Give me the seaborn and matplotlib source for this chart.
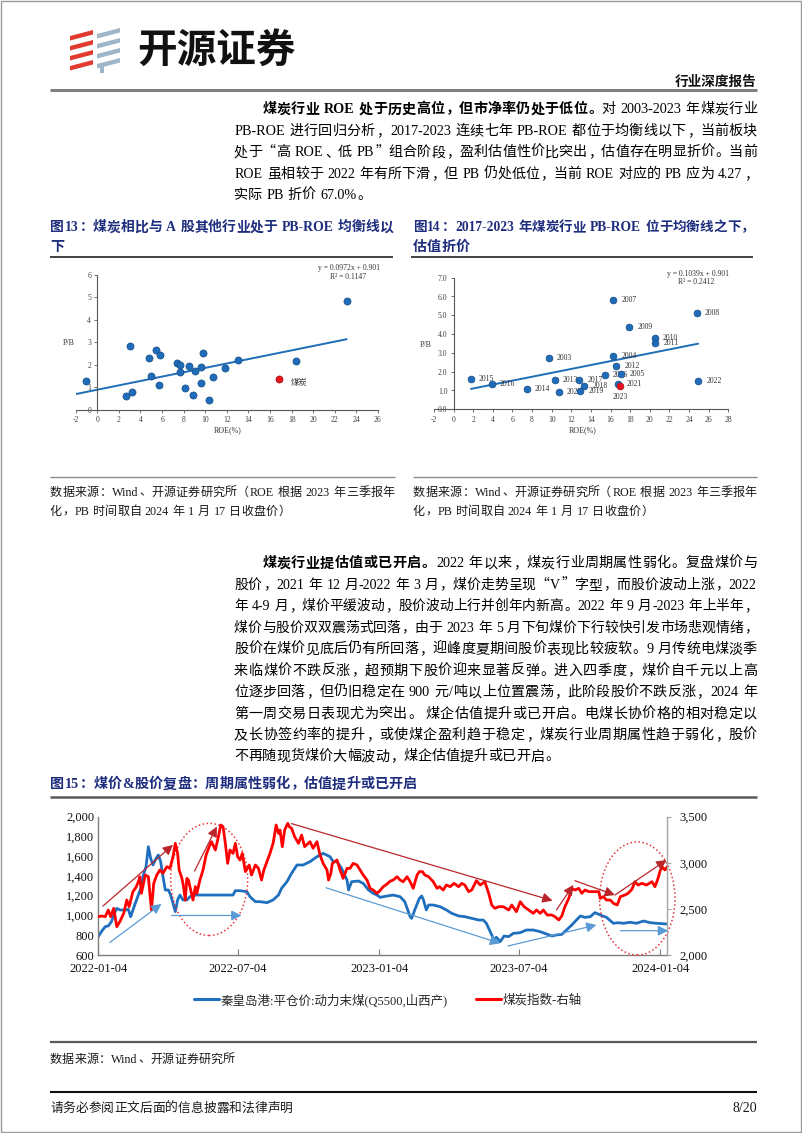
import re
import numpy as np
import pandas as pd
import matplotlib
matplotlib.use('Agg')
import matplotlib.pyplot as plt
import matplotlib.dates as mdates
from matplotlib.ticker import FuncFormatter
from matplotlib.patches import Ellipse, Polygon, Rectangle
from matplotlib.lines import Line2D
import seaborn as sns

sns.set_theme(style='white')
CJK = 'Noto Sans CJK SC'
SERIF = 'Liberation Serif'
plt.rcParams['font.family'] = [SERIF, CJK]
plt.rcParams['axes.unicode_minus'] = False

# ======================= DATA =======================
# Figure 13: industries PB vs ROE
industry_roe = [-1.0, 2.7, 3.2, 3.0, 4.75, 5.0, 5.4, 5.8, 5.7, 7.4, 7.65, 7.7, 8.1,
                8.5, 8.85, 9.05, 9.6, 9.8, 9.65, 10.35, 10.75, 11.85, 13.0, 18.4, 23.1]
industry_pb = [1.29, 0.64, 0.81, 2.84, 2.33, 1.53, 2.67, 2.46, 1.13, 2.07, 2.0, 1.70, 0.98,
               1.94, 0.68, 1.72, 1.91, 2.52, 1.21, 0.43, 1.45, 1.88, 2.21, 2.18, 4.83]
coal_name = '煤炭'
coal_roe = [16.85]
coal_pb = [1.39]
fit13 = [0.0972, 0.901]
fit13_labels = ['y = 0.0972x + 0.901', 'R² = 0.1147']
x13_ticks = list(range(-2, 27, 2))
y13_ticks = list(range(0, 7))

# Figure 14: coal industry by year
years = ['2003', '2004', '2005', '2006', '2007', '2008', '2009', '2010', '2011', '2012', '2013',
         '2014', '2015', '2016', '2017', '2018', '2019', '2020', '2021', '2022', '2023']
year_roe = [9.71, 16.29, 17.07, 15.4, 16.26, 24.78, 17.92, 20.5, 20.57, 16.56, 10.32,
            7.43, 1.77, 3.87, 12.8, 13.3, 12.93, 10.73, 16.8, 24.92, 16.97]
year_pb = [2.71, 2.82, 1.90, 1.84, 5.80, 5.14, 4.40, 3.81, 3.51, 2.29, 1.54,
           1.08, 1.61, 1.37, 1.58, 1.24, 0.99, 0.92, 1.37, 1.49, 1.26]
highlight_year = '2023'
fit14 = [0.1039, 0.901]
fit14_labels = ['y = 0.1039x + 0.901', 'R² = 0.2412']
x14_ticks = list(range(-2, 29, 2))
y14_ticks = list(range(0, 8))

# Figure 15: coal price (left axis) and coal index (right axis)
series_start = '2022-01-04'
price_days = [0, 4, 9, 13, 17, 20, 24, 28, 35, 39, 42, 48, 52, 56, 58, 62, 65, 68, 71, 75,
              78, 81, 84, 87, 91, 94, 97, 100, 103, 106, 110, 115, 119, 126, 141, 158, 175, 178, 184, 193,
              197, 204, 210, 219, 227, 234, 238, 245, 251, 258, 266, 275, 284, 292, 301, 305, 310, 316, 323, 325,
              329, 338, 344, 351, 357, 362, 366, 375, 383, 392, 398, 405, 407, 411, 417, 420, 422, 426, 429, 435,
              444, 452, 459, 468, 476, 485, 494, 500, 504, 509, 514, 517, 522, 527, 533, 539, 548, 556, 565, 574,
              582, 589, 595, 602, 608, 615, 621, 626, 632, 639, 645, 652, 660, 669, 675, 682, 691, 699, 708, 717,
              725, 738]
coal_price = [786, 836, 887, 894, 937, 1005, 1072, 1056, 1056, 1062, 988, 1123, 1207, 1292, 1393, 1494, 1696, 1578, 1511, 1578,
              1612, 1545, 1393, 1258, 1258, 1207, 1123, 1039, 1157, 1207, 1157, 1157, 1190, 1207, 1207, 1207, 1207, 1251, 1251, 1241,
              1190, 1140, 1140, 1130, 1157, 1207, 1275, 1342, 1427, 1511, 1511, 1545, 1595, 1629, 1595, 1545, 1545, 1477, 1359, 1258,
              1342, 1349, 1325, 1258, 1224, 1207, 1184, 1197, 1207, 1190, 1140, 988, 971, 1056, 1174, 1197, 1164, 1056, 1106, 1106,
              1089, 1056, 1022, 995, 988, 971, 954, 954, 921, 836, 752, 779, 735, 792, 786, 819, 826, 853, 853, 836,
              813, 792, 803, 809, 853, 904, 954, 995, 981, 988, 1029, 1005, 981, 921, 927, 921, 931, 921, 944, 927,
              921, 914]
index_days = [0, 4, 9, 13, 16, 20, 24, 28, 33, 37, 40, 45, 49, 52, 54, 56, 61, 65, 69, 72,
              76, 80, 84, 89, 93, 97, 100, 103, 105, 108, 110, 113, 115, 117, 120, 123, 126, 128, 132, 136,
              140, 144, 147, 152, 156, 159, 162, 165, 168, 171, 175, 178, 181, 184, 187, 191, 196, 199, 204, 208,
              212, 215, 219, 223, 227, 231, 234, 236, 239, 242, 246, 248, 251, 255, 260, 264, 268, 275, 279, 284,
              288, 292, 297, 299, 302, 304, 310, 314, 318, 323, 327, 331, 336, 340, 344, 349, 353, 357, 362,
              366, 370, 375, 379, 383, 388, 392, 396, 401, 405, 409, 414, 417, 421, 424, 429, 435, 440, 443, 448,
              452, 457, 462, 468, 472, 476, 481, 485, 491, 496, 502, 507, 511, 515, 520, 526, 533, 537, 543, 548,
              553, 559, 565, 569, 574, 578, 583, 589, 593, 598, 602, 606, 611, 615, 619, 624, 628, 632, 637, 643,
              650, 652, 656, 660, 665, 669, 674, 678, 684, 688, 693, 697, 701, 706, 712, 719, 723, 727, 730, 733,
              736, 739]
coal_index = [2416, 2423, 2416, 2488, 2416, 2506, 2307, 2362, 2452, 2596, 2524, 2687, 2734, 2795, 2849, 2669, 2868, 2849, 2488, 2777,
              2868, 2922, 2886, 2958, 2940, 3066, 3211, 3102, 2922, 2849, 2777, 2596, 2831, 2813, 2705, 2596, 2741, 2669, 2813, 2922,
              3084, 3175, 3229, 3139, 3283, 3410, 3392, 3211, 2994, 3139, 3102, 3211, 3066, 3030, 3102, 2904, 2976, 2868, 2976, 2940,
              2813, 2922, 3012, 3102, 3211, 3410, 3319, 3355, 3175, 3355, 3428, 3392, 3374, 3283, 3211, 3301, 3175, 3229, 3157, 3229,
              3084, 2994, 2922, 2813, 2886, 2994, 3030, 2922, 2831, 2940, 2940, 2994, 2976, 2922, 2868, 2813, 2723, 2705, 2669,
              2700, 2740, 2770, 2800, 2813, 2849, 2813, 2795, 2849, 2795, 2723, 2868, 2904, 2904, 2868, 2849, 2795, 2723, 2741, 2705,
              2759, 2741, 2777, 2741, 2777, 2759, 2687, 2705, 2806, 2759, 2795, 2669, 2542, 2506, 2524, 2524, 2488, 2542, 2470, 2578,
              2524, 2488, 2452, 2488, 2452, 2488, 2434, 2434, 2416, 2380, 2423, 2524, 2614, 2723, 2705, 2723, 2669, 2705, 2687, 2687,
              2687, 2614, 2633, 2596, 2596, 2560, 2542, 2633, 2651, 2669, 2712, 2795, 2759, 2777, 2759, 2795, 2741, 2831, 2922, 2951,
              2922, 2958]
series_end_day = 739
date_ticks = ['2022-01-04', '2022-07-04', '2023-01-04', '2023-07-04', '2024-01-04']
left_ticks = list(range(600, 2001, 200))
right_ticks = [2000, 2500, 3000, 3500]
legend_labels = ['秦皇岛港:平仓价:动力末煤(Q5500,山西产)', '煤炭指数-右轴']

# annotation shapes in (day offset, left-axis value)
red_arrows = [(6, 1095, 97, 1715), (125, 1450, 154, 1900), (251, 1930, 590, 1150),
              (595, 1056, 617, 1309), (619, 1352, 671, 1207), (671, 1207, 738, 1562)]
blue_arrows = [(15, 727, 82, 1117), (95, 1000, 186, 1000), (296, 1280, 522, 718),
               (532, 691, 647, 904), (678, 846, 740, 846)]
ellipses = [(144, 1365, 100, 1135), (700, 1172, 98, 1145)]

# ======================= TEXT =======================
para1 = [
    [('煤炭行业 ROE 处于历史高位，但市净率仍处于低位。', 'bold'), ('对 2003-2023 年煤炭行业', 'normal')],
    [('PB-ROE 进行回归分析，2017-2023 连续七年 PB-ROE 都位于均衡线以下，当前板块', 'normal')],
    [('处于“高 ROE、低 PB”组合阶段，盈利估值性价比突出，估值存在明显折价。当前', 'normal')],
    [('ROE 虽相较于 2022 年有所下滑，但 PB 仍处低位，当前 ROE 对应的 PB 应为 4.27，', 'normal')],
    [('实际 PB 折价 67.0%。', 'normal')],
]
para2 = [
    [('煤炭行业提估值或已开启。', 'bold'), ('2022 年以来，煤炭行业周期属性弱化。复盘煤价与', 'normal')],
    [('股价，2021 年 12 月-2022 年 3 月，煤价走势呈现“V”字型，而股价波动上涨，2022', 'normal')],
    [('年 4-9 月，煤价平缓波动，股价波动上行并创年内新高。2022 年 9 月-2023 年上半年，', 'normal')],
    [('煤价与股价双双震荡式回落，由于 2023 年 5 月下旬煤价下行较快引发市场悲观情绪，', 'normal')],
    [('股价在煤价见底后仍有所回落，迎峰度夏期间股价表现比较疲软。9 月传统电煤淡季', 'normal')],
    [('来临煤价不跌反涨，超预期下股价迎来显著反弹。进入四季度，煤价自千元以上高', 'normal')],
    [('位逐步回落，但仍旧稳定在 900 元/吨以上位置震荡，此阶段股价不跌反涨，2024 年', 'normal')],
    [('第一周交易日表现尤为突出。 煤企估值提升或已开启。电煤长协价格的相对稳定以', 'normal')],
    [('及长协签约率的提升，或使煤企盈利趋于稳定，煤炭行业周期属性趋于弱化，股价', 'normal')],
    [('不再随现货煤价大幅波动，煤企估值提升或已开启。', 'normal')],
]
title13 = [[('图13：煤炭相比与 A 股其他行业处于 PB-ROE 均衡线以', 'bold')], [('下', 'bold')]]
title14 = [[('图14：2017-2023 年煤炭行业 PB-ROE 位于均衡线之下，', 'bold')], [('估值折价', 'bold')]]
source_small = [[('数据来源：Wind、开源证券研究所（ROE 根据 2023 年三季报年', 'normal')],
                [('化，PB 时间取自 2024 年 1 月 17 日收盘价）', 'normal')]]
title15 = [[('图15：煤价&股价复盘：周期属性弱化，估值提升或已开启', 'bold')]]
source15 = [[('数据来源：Wind、开源证券研究所', 'normal')]]
footer = [[('请务必参阅正文后面的信息披露和法律声明', 'normal')]]
page_no = '8/20'

# ======================= FIGURE =======================
DPI = 100
W, H = 802, 1133
fig = plt.figure(figsize=(W / DPI, H / DPI), dpi=DPI)
fig.patch.set_facecolor('white')
page = fig.add_axes([0, 0, 1, 1])
page.set_xlim(0, W)
page.set_ylim(H, 0)
page.axis('off')
renderer = fig.canvas.get_renderer()

NAVY = '#1E2D7D'
BLUE = '#1F6DB8'
RED = '#FF0000'


def px_rect(x0, y0, x1, y1):
    return [x0 / W, 1 - y1 / H, (x1 - x0) / W, (y1 - y0) / H]


TOKEN_RE = re.compile(r"[A-Za-z0-9.,%\-/()&]+|\s+|.")
LAT_RE = re.compile(r"[A-Za-z0-9.,%\-/()&]+")
LEFT_PUNCT = set('，。、：；）”！？')
RIGHT_PUNCT = set('（“')
_wcache = {}


def lat_width(t, size, weight):
    key = (t, size, weight)
    if key not in _wcache:
        tx = page.text(0, 0, t, family=[SERIF, CJK], size=size, weight=weight)
        _wcache[key] = tx.get_window_extent(renderer).width
        tx.remove()
    return _wcache[key]


def line_items(segs, size):
    em = size * DPI / 72.0
    items = []
    for text, weight in segs:
        for m in TOKEN_RE.finditer(text):
            t = m.group()
            if t.isspace():
                items.append(['sp', t, weight, 0.25 * em * len(t)])
            elif LAT_RE.fullmatch(t):
                items.append(['lat', t, weight, lat_width(t, size, weight) + 0.08 * em])
            else:
                items.append(['cjk', t, weight, em])
    return items


def draw_line(x0, yc, segs, size, color='black', right=None):
    items = line_items(segs, size)
    natural = sum(it[3] for it in items)
    if right is not None and natural > right - x0:
        # shrink the whole line slightly so that it fits the column
        size = size * (right - x0) / natural * 0.997
        items = line_items(segs, size)
        natural = sum(it[3] for it in items)
    em = size * DPI / 72.0
    extra = 0.0
    if right is not None and len(items) > 1:
        extra = max((right - x0 - natural) / (len(items) - 1), 0.0)
    x = x0
    base = yc + 0.38 * em
    for kind, t, weight, w in items:
        if kind == 'cjk':
            if t in LEFT_PUNCT:
                page.text(x + 0.06 * em, base, t, family=[CJK], size=size, weight=weight,
                          color=color, ha='left', va='baseline')
            elif t in RIGHT_PUNCT:
                page.text(x + w - 0.06 * em, base, t, family=[CJK], size=size, weight=weight,
                          color=color, ha='right', va='baseline')
            else:
                page.text(x + 0.5 * em, base, t, family=[CJK], size=size, weight=weight,
                          color=color, ha='center', va='baseline')
        elif kind == 'lat':
            page.text(x + 0.04 * em, base, t, family=[SERIF, CJK], size=size,
                      weight=weight, color=color, ha='left', va='baseline')
        x += w + extra


def paragraph(lines, x0, y0, lh, size, right, indent=0, color='black', justify_last=False):
    em = size * DPI / 72.0
    for i, segs in enumerate(lines):
        xs = x0 + (indent * em if i == 0 else 0)
        r = right if (i < len(lines) - 1 or justify_last) else None
        draw_line(xs, y0 + i * lh, segs, size, color, r)


def hrule(y, x0, x1, color, lw):
    page.plot([x0, x1], [y, y], color=color, lw=lw, solid_capstyle='butt')


# ---- page frame & header ----
page.add_patch(Rectangle((0.8, 0.8), W - 1.6, H - 1.6, fill=False, ec='#9A9A9A', lw=1.0))
for yb in [36, 46, 56, 66]:
    page.add_patch(Polygon([(70, yb), (93, yb - 6), (93, yb - 1.5), (70, yb + 4.5)],
                           closed=True, fc='#E23A2E', ec='none'))
for yb in [34, 44, 54, 64]:
    page.add_patch(Polygon([(97, yb), (120, yb - 6), (120, yb - 1.5), (97, yb + 4.5)],
                           closed=True, fc='#9FB5C8', ec='none'))
page.add_patch(Polygon([(100, 64), (104, 64), (104, 73), (100, 73)], closed=True, fc='#9FB5C8', ec='none'))
page.text(137, 50, '开源证券', family=[CJK], size=28.5, weight='black', color='#111111',
          ha='left', va='center')
page.text(756, 82, '行业深度报告', family=[CJK], size=9.8, weight='bold', color='#111111',
          ha='right', va='center')
hrule(89.5, 50, 757, '#7F7F7F', 2.2)

# ---- paragraph 1 ----
BODY = 10.15
SRC = 8.7
paragraph(para1, 234, 108, 21.5, BODY, 757, indent=2)

# ---- figure titles 13/14 ----
paragraph(title13, 50, 226, 20, BODY, 393, color=NAVY)
paragraph(title14, 413, 226, 20, BODY, 754, color=NAVY)
hrule(257, 50, 393, '#111111', 1.1)
hrule(257, 411, 753, '#111111', 1.1)

# ---- sources 13/14 ----
hrule(477, 50, 395, '#8C8C8C', 1.0)
hrule(477, 413, 757, '#8C8C8C', 1.0)
paragraph(source_small, 50, 491, 19.5, SRC, 395, color='#1A1A1A')
paragraph(source_small, 413, 491, 19.5, SRC, 757, color='#1A1A1A')

# ---- paragraph 2 ----
paragraph(para2, 234, 562, 21.45, BODY, 757, indent=2)

# ---- figure 15 title / source / footer ----
paragraph(title15, 50, 783, 20, BODY, None, color=NAVY)
hrule(797, 50, 757, '#595959', 1.8)
hrule(1042, 50, 757, '#595959', 1.6)
paragraph(source15, 50, 1058, 20, SRC, None, color='#1A1A1A')
hrule(1092, 50, 757, '#111111', 1.5)
paragraph(footer, 50, 1107, 20, 9.2, None, color='#1A1A1A')
page.text(757, 1107 + 4.5, page_no, family=[SERIF], size=10, color='#1A1A1A', ha='right', va='baseline')


# ======================= SCATTER CHARTS =======================
def style_scatter(ax, xlim, ylim, xticks, yticks, yfmt):
    ax.set_facecolor('none')
    ax.set_xlim(*xlim)
    ax.set_ylim(*ylim)
    for s in ['top', 'right']:
        ax.spines[s].set_visible(False)
    ax.spines['left'].set_position(('data', 0))
    ax.spines['bottom'].set_position(('data', 0))
    for s in ['left', 'bottom']:
        ax.spines[s].set_color('#595959')
        ax.spines[s].set_linewidth(0.8)
    ax.set_xticks(xticks)
    ax.set_yticks(yticks)
    ax.xaxis.set_major_formatter(FuncFormatter(lambda v, p: f'{v:g}'))
    ax.yaxis.set_major_formatter(FuncFormatter(yfmt))
    ax.tick_params(axis='both', which='major', bottom=True, left=True, direction='out',
                   length=2.5, width=0.6, color='#595959', labelsize=5.5,
                   labelcolor='#404040', pad=2)
    ax.set_xlabel('')
    ax.set_ylabel('')
    ax.grid(False)
    ax.patch.set_alpha(0)


# Figure 13
ax13 = fig.add_axes(px_rect(75.7, 275, 378, 410))
trend13_x = [x13_ticks[0], max(industry_roe)]
sns.lineplot(x=trend13_x, y=[fit13[0] * v + fit13[1] for v in trend13_x], ax=ax13,
             color=BLUE, lw=1.4, zorder=2, legend=False)
sns.scatterplot(x=industry_roe, y=industry_pb, ax=ax13, color=BLUE, s=26,
                edgecolor='#154A85', linewidth=0.5, zorder=3, legend=False)
sns.scatterplot(x=coal_roe, y=coal_pb, ax=ax13, color='#E8141B', s=26,
                edgecolor='#A50F15', linewidth=0.5, zorder=4, legend=False)
ax13.annotate(coal_name, (coal_roe[0], coal_pb[0]), xytext=(8.5, -2.5), textcoords='offset points',
              family=[CJK], size=6, color='#333333', ha='left', va='center')
style_scatter(ax13, (-2, 26), (0, 6), x13_ticks, y13_ticks, lambda v, p: f'{v:g}')
page.text(69, 343, 'P/B', family=[SERIF], size=5.8, color='#333333', ha='center', va='center')
page.text(228, 430, 'ROE(%)', family=[SERIF], size=5.8, color='#333333', ha='center', va='center')
page.text(348.5, 268, fit13_labels[0], family=[SERIF], size=5.5, color='#333333', ha='center', va='center')
page.text(348.5, 277, fit13_labels[1], family=[SERIF], size=5.5, color='#333333', ha='center', va='center')

# Figure 14
ax14 = fig.add_axes(px_rect(434, 277.7, 728.3, 409.3))
trend14_x = [min(year_roe), max(year_roe)]
sns.lineplot(x=trend14_x, y=[fit14[0] * v + fit14[1] for v in trend14_x], ax=ax14,
             color=BLUE, lw=1.4, zorder=2, legend=False)
normal_idx = [i for i, yv in enumerate(years) if yv != highlight_year]
hi_idx = [i for i, yv in enumerate(years) if yv == highlight_year]
sns.scatterplot(x=[year_roe[i] for i in normal_idx], y=[year_pb[i] for i in normal_idx], ax=ax14,
                color=BLUE, s=24, edgecolor='#154A85', linewidth=0.5, zorder=3, legend=False)
sns.scatterplot(x=[year_roe[i] for i in hi_idx], y=[year_pb[i] for i in hi_idx], ax=ax14,
                color='#E8141B', s=24, edgecolor='#A50F15', linewidth=0.5, zorder=4, legend=False)
for i, yr in enumerate(years):
    if yr == highlight_year:
        ax14.annotate(yr, (year_roe[i], year_pb[i]), xytext=(0, -8), textcoords='offset points',
                      family=[SERIF], size=5.5, color='#333333', ha='center', va='center', zorder=2)
    else:
        ax14.annotate(yr, (year_roe[i], year_pb[i]), xytext=(5.8, 0), textcoords='offset points',
                      family=[SERIF], size=5.5, color='#333333', ha='left', va='center', zorder=2)
style_scatter(ax14, (-2, 28), (0, 7), x14_ticks, y14_ticks, lambda v, p: f'{v:.1f}')
page.text(426, 345, 'P/B', family=[SERIF], size=5.8, color='#333333', ha='center', va='center')
page.text(582.5, 430, 'ROE(%)', family=[SERIF], size=5.8, color='#333333', ha='center', va='center')
page.text(698, 273.5, fit14_labels[0], family=[SERIF], size=5.5, color='#333333', ha='center', va='center')
page.text(696, 282.5, fit14_labels[1], family=[SERIF], size=5.5, color='#333333', ha='center', va='center')

# ======================= LINE CHART =======================
start = pd.Timestamp(series_start)
price_dates = start + pd.to_timedelta(price_days, unit='D')
index_dates = start + pd.to_timedelta(index_days, unit='D')


def dnum(day):
    return mdates.date2num(start + pd.Timedelta(days=day))


ax = fig.add_axes(px_rect(98.3, 816.7, 667.3, 955))
ax.set_facecolor('none')
sns.lineplot(x=price_dates, y=coal_price, ax=ax, color='#1F6FBF', lw=2.0, legend=False)
ax2 = ax.twinx()
sns.lineplot(x=index_dates, y=coal_index, ax=ax2, color=RED, lw=2.0, legend=False)
ax.set_xlim(dnum(0), dnum(series_end_day))
ax.set_ylim(left_ticks[0], left_ticks[-1])
ax2.set_ylim(right_ticks[0], right_ticks[-1])
ax.set_xticks([mdates.date2num(pd.Timestamp(d)) for d in date_ticks])
ax.xaxis.set_major_formatter(mdates.DateFormatter('%Y-%m-%d'))
ax.set_yticks(left_ticks)
ax2.set_yticks(right_ticks)
ax.yaxis.set_major_formatter(FuncFormatter(lambda v, p: f'{v:,.0f}'))
ax2.yaxis.set_major_formatter(FuncFormatter(lambda v, p: f'{v:,.0f}'))
for s in ['top', 'right']:
    ax.spines[s].set_visible(False)
for s in ['top', 'left', 'bottom']:
    ax2.spines[s].set_visible(False)
ax.spines['left'].set_color('#7F7F7F')
ax.spines['bottom'].set_color('#7F7F7F')
ax2.spines['right'].set_color('#A6A6A6')
for s in [ax.spines['left'], ax.spines['bottom'], ax2.spines['right']]:
    s.set_linewidth(1.0)
ax.tick_params(axis='x', bottom=True, direction='in', length=4, width=0.8, color='#7F7F7F',
               labelsize=9, pad=6, labelcolor='#111111')
ax.tick_params(axis='y', left=True, length=0, labelsize=9, pad=3, labelcolor='#111111')
ax2.tick_params(axis='y', right=True, direction='out', length=3, width=0.8, color='#A6A6A6',
                labelsize=9, pad=6, labelcolor='#111111')
ax.set_xlabel('')
ax.set_ylabel('')
ax2.set_ylabel('')
ax.grid(False)
ax2.grid(False)

arrow_style = '-|>,head_length=0.6,head_width=0.3'
for (d0, v0, d1, v1) in red_arrows:
    ax2.annotate('', xy=(dnum(d1), v1), xytext=(dnum(d0), v0), xycoords=ax.transData,
                 textcoords=ax.transData, annotation_clip=False,
                 arrowprops=dict(arrowstyle=arrow_style, color='#B8262C', lw=0.9,
                                 mutation_scale=10, shrinkA=0, shrinkB=0))
for (d0, v0, d1, v1) in blue_arrows:
    ax2.annotate('', xy=(dnum(d1), v1), xytext=(dnum(d0), v0), xycoords=ax.transData,
                 textcoords=ax.transData, annotation_clip=False,
                 arrowprops=dict(arrowstyle=arrow_style, color='#5B9BD5', lw=0.9,
                                 mutation_scale=10, shrinkA=0, shrinkB=0))
for (dc, vc, wd, hv) in ellipses:
    e = Ellipse((dnum(dc), vc), wd, hv, transform=ax.transData, fill=False,
                ec='#E4363C', lw=1.1, ls=(0, (1, 1.6)), clip_on=False)
    ax2.add_patch(e)

handles = [Line2D([], [], color='#1F6FBF', lw=2.2), Line2D([], [], color=RED, lw=2.2)]
fig.legend(handles, legend_labels, loc='center', bbox_to_anchor=(388 / W, 1 - 1000 / H),
           ncol=2, frameon=False, fontsize=9, handlelength=2.0, handletextpad=0.15,
           columnspacing=2.2)

fig.savefig('out.png', dpi=DPI)
